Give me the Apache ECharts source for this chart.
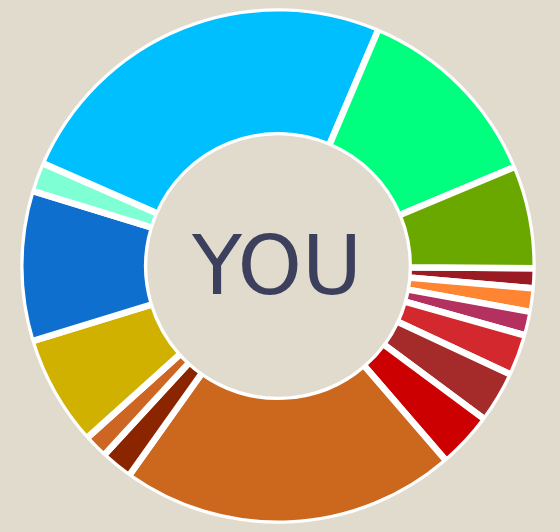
<!DOCTYPE html>
<html>
<head>
<meta charset="utf-8">
<script src="https://cdn.jsdelivr.net/npm/echarts@6/dist/echarts.min.js"></script>
<style>
html,body{margin:0;padding:0;background:#e1dbce;}
#chart{width:560px;height:532px;}
</style>
</head>
<body>
<div id="chart"></div>
<script>
// Slice names (not shown in the picture), values (share of the ring, in degrees), colours
var categories = ['Dark red','Orange','Plum','Red','Brown','Crimson','Copper','Rust','Amber','Gold','Blue','Aquamarine','Sky','Spring','Olive'];
var values = [4.5, 5.3, 5.4, 9.3, 11.6, 12.6, 76.2, 7.2, 5.4, 25, 34, 6.6, 89.4, 44.3, 23.2];
var colors = ['#9b1b24','#ff8533','#b3305f','#d4282f','#a52a2a','#cc0000','#cc671e','#8b2500','#cc6622','#d1b100','#0f6fcf','#7fffd4','#00bfff','#00ff7f','#6aa800'];
var centerText = 'YOU';

var BG = '#e1dbce';
var chart = echarts.init(document.getElementById('chart'), null, {renderer: 'canvas'});
var data = categories.map(function (c, i) {
  return {name: c, value: values[i], itemStyle: {color: colors[i]}};
});
chart.setOption({
  backgroundColor: BG,
  animation: false,
  series: [
    {
      type: 'pie',
      center: [278, 266],
      radius: [130.75, 257.75],
      startAngle: -0.5,
      clockwise: true,
      silent: true,
      label: {show: false},
      labelLine: {show: false},
      itemStyle: {borderColor: '#ffffff', borderWidth: 6.5},
      data: data,
      z: 1
    },
    {
      type: 'pie',
      center: [278, 266],
      radius: [257.75, 275],
      silent: true,
      label: {show: false},
      labelLine: {show: false},
      itemStyle: {color: BG},
      data: [{value: 1, name: 'outer'}],
      z: 2
    },
    {
      type: 'pie',
      center: [278, 266],
      radius: [0, 130.75],
      silent: true,
      label: {show: false},
      labelLine: {show: false},
      itemStyle: {color: BG},
      data: [{value: 1, name: 'hole'}],
      z: 2
    }
  ],
  graphic: [{
    type: 'text',
    z: 10,
    x: 277,
    y: 273,
    style: {
      text: centerText,
      fill: '#3d405c',
      font: '82px "DejaVu Sans"',
      align: 'center',
      verticalAlign: 'middle'
    }
  }]
});
</script>
</body>
</html>
